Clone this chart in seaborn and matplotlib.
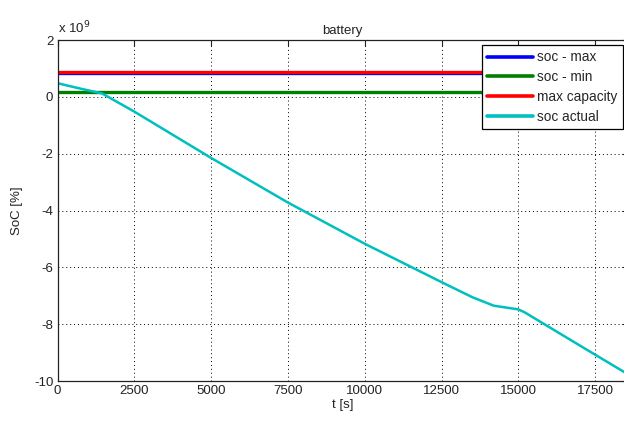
import matplotlib
matplotlib.use("Agg")
import matplotlib.pyplot as plt
import matplotlib.ticker as mticker
import seaborn as sns

# ---- data (values in SoC units, plotted with x 10^9 scale) ----
t_span = [0, 18500]
soc_max = [0.855e9, 0.855e9]
soc_min = [0.17e9, 0.17e9]
max_capacity = [0.88e9, 0.88e9]

t_actual = [0, 700, 1450, 2500, 5000, 7500, 10000, 12500, 13500, 14200,
            15000, 15200, 17000, 18500]
soc_actual = [0.48e9, 0.30e9, 0.12e9, -0.52e9, -2.15e9, -3.72e9, -5.17e9,
              -6.52e9, -7.05e9, -7.35e9, -7.48e9, -7.58e9, -8.75e9, -9.72e9]

x_ticks = [0, 2500, 5000, 7500, 10000, 12500, 15000, 17500]
y_ticks = [2e9, 0, -2e9, -4e9, -6e9, -8e9, -10e9]

sns.set_style("white")
plt.rcParams['font.family'] = ['Liberation Sans', 'DejaVu Sans']

fig = plt.figure(figsize=(6.24, 4.25), dpi=100)
ax = fig.add_axes([57.5 / 624, 1 - 381 / 425, (628 - 57.5) / 624, (381 - 40) / 425])

lw = 2.4
sns.lineplot(x=t_span, y=soc_max, color=(0, 0, 1), lw=lw, ax=ax, label="soc - max")
sns.lineplot(x=t_span, y=soc_min, color=(0, 0.5, 0), lw=lw, ax=ax, label="soc - min")
sns.lineplot(x=t_span, y=max_capacity, color=(1, 0, 0), lw=lw, ax=ax, label="max capacity")
sns.lineplot(x=t_actual, y=soc_actual, color=(0, 0.75, 0.75), lw=1.8, ax=ax,
             label="soc actual", sort=False)

ax.set_xlim(0, 18570)
ax.set_ylim(-10e9, 2e9)
ax.set_xticks(x_ticks)
ax.set_yticks(y_ticks)
ax.yaxis.set_major_formatter(mticker.FuncFormatter(lambda v, p: f"{v/1e9:g}"))
ax.tick_params(direction="in", length=4, labelsize=9.5, top=True, right=True,
               colors="#222222", labelcolor="#222222", pad=3)
for s in ax.spines.values():
    s.set_color("#222222")
    s.set_linewidth(0.9)
ax.grid(True, linestyle=(0, (1, 3)), color="black", linewidth=0.7)
ax.set_axisbelow(True)

ax.set_title("battery", fontsize=9.5, pad=4, color="#222222")
ax.set_xlabel("t [s]", fontsize=9.5, labelpad=1, color="#222222")
ax.set_ylabel("SoC [%]", fontsize=9.5, labelpad=8, color="#222222")
ax.text(0.0, 1.012, r"x 10$^{9}$", transform=ax.transAxes, fontsize=9.5,
        ha="left", va="bottom", color="#222222")

leg = ax.legend(loc="upper right", bbox_to_anchor=(623 / 624, 1 - 45 / 425),
                bbox_transform=fig.transFigure, fontsize=9.8, frameon=True,
                fancybox=False, framealpha=1, edgecolor="black",
                handlelength=3.4, handletextpad=0.3, labelspacing=0.42,
                borderpad=0.4, borderaxespad=0)
leg.get_frame().set_linewidth(0.9)
for h in leg.get_lines():
    h.set_linewidth(2.6)

fig.savefig("out.png", dpi=100)
